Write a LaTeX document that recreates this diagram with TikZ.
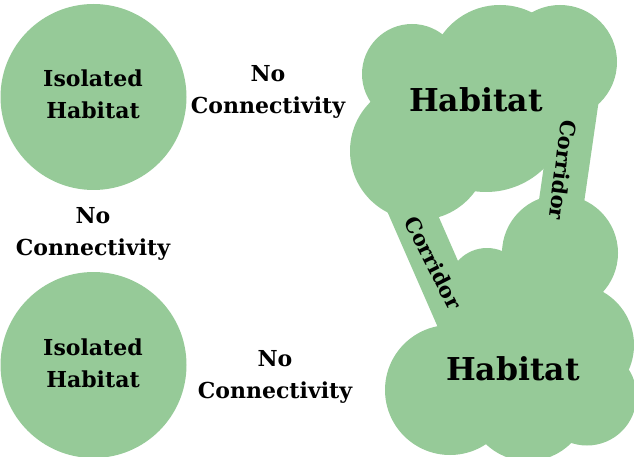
\documentclass[tikz,border=0pt]{standalone}
\usepackage{fontspec}
\setmainfont{DejaVu Serif}
\definecolor{habgreen}{RGB}{150,202,152}
\tikzset{
  patch/.style={fill=habgreen},
  corr/.style={draw=habgreen, line width=45pt},
  lbl/.style={font=\bfseries\fontsize{22}{32}\selectfont, align=center, inner sep=0pt},
  big/.style={font=\bfseries\fontsize{31.5}{36}\selectfont, inner sep=0pt},
  corrtext/.style={font=\bfseries\fontsize{21}{26}\selectfont, inner sep=0pt}
}
\begin{document}
\begin{tikzpicture}[x=1pt,y=-1pt]
\useasboundingbox (0,0) rectangle (634,457);
% isolated habitats
\fill[patch] (93.5,97) circle[radius=93pt];
\fill[patch] (93.5,365) circle[radius=93pt];
% top habitat patch
\fill[patch] (412,74) circle[radius=50pt];
\fill[patch] (500,76) circle[radius=71pt];
\fill[patch] (560,62) circle[radius=57pt];
\fill[patch] (419,151) circle[radius=69pt];
\fill[patch] (486,109) circle[radius=83pt];
% bottom habitat patch
\fill[patch] (560,253) circle[radius=58pt];
\fill[patch] (487,287) circle[radius=39pt];
\fill[patch] (520,335) circle[radius=70pt];
\fill[patch] (573,345) circle[radius=61pt];
\fill[patch] (587,396) circle[radius=49.5pt];
\fill[patch] (528,400) circle[radius=61pt];
\fill[patch] (450,390) circle[radius=65pt];
% corridor ends
\coordinate (ra) at (578.3,85.2);
\coordinate (rb) at (558.1,225);
\coordinate (la) at (402.4,190);
\coordinate (lb) at (468,340);
\draw[corr] (ra) -- (rb);
\draw[corr] (la) -- (lb);
% labels
\node[lbl] (iso1) at (93,94) {Isolated\\Habitat};
\node[lbl] (iso2) at (93,363) {Isolated\\Habitat};
\node[lbl] (nc1) at (268,92) {No\\Connectivity};
\node[lbl] (nc2) at (93,233.5) {No\\Connectivity};
\node[lbl] (nc3) at (275,376.5) {No\\Connectivity};
\node[big] (hab1) at (476,100) {Habitat};
\node[big] (hab2) at (513,369) {Habitat};
\node[corrtext, rotate=-97] (cr) at (563,170) {Corridor};
\node[corrtext, rotate=-63] (cl) at (433.5,262.5) {Corridor};
\end{tikzpicture}
\end{document}
